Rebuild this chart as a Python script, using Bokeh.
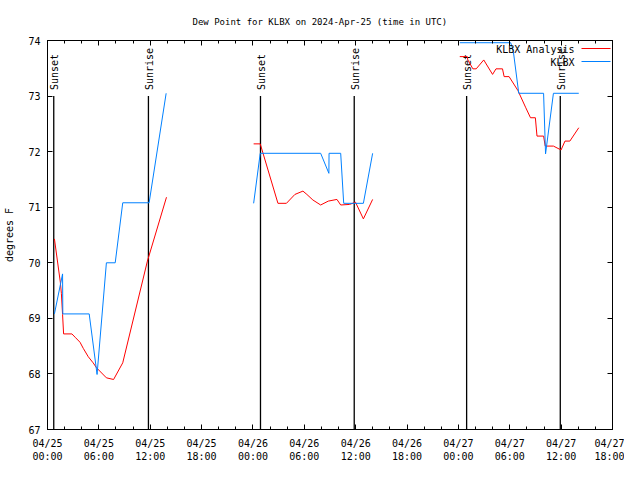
import math
from bokeh.plotting import figure
from bokeh.models import (LinearAxis, FixedTicker, Range1d, Label, PolyAnnotation,
                          ColumnDataSource)
from bokeh.embed import file_html
from bokeh.resources import INLINE
from bokeh.core.properties import value

NaN = float("nan")

# Time axis: hours since 2024-04-25 00:00 UTC
analysis_hours = [0.81, 1.50, 1.62, 1.76, 1.88, 2.85, 3.23, 3.80, 4.18, 4.76, 5.33, 5.73, 6.88, 7.72, 8.79, 11.67, 13.90,
                  NaN,
                  24.08, 24.85, 26.92, 27.91, 28.90, 29.84, 30.30, 31.00, 31.91, 32.80, 33.81, 34.25, 35.29, 35.98, 36.90, 37.98,
                  NaN,
                  48.16, 49.04, 49.10, 49.69, 50.08, 50.96, 51.99, 52.39, 53.15, 53.34, 53.92, 54.95, 55.84, 56.42, 56.99, 57.18,
                  57.95, 58.14, 59.10, 59.99, 60.45, 61.02, 62.06]
analysis_dewpt = [70.43, 69.65, 69.45, 69.07, 68.72, 68.72, 68.66, 68.57, 68.46, 68.31, 68.20, 68.11, 67.93, 67.90, 68.20, 70.03, 71.18,
                  NaN,
                  72.14, 72.14, 71.07, 71.07, 71.23, 71.29, 71.23, 71.13, 71.04, 71.11, 71.14, 71.04, 71.05, 71.09, 70.79, 71.14,
                  NaN,
                  73.71, 73.71, 73.65, 73.49, 73.49, 73.65, 73.39, 73.49, 73.49, 73.35, 73.35, 73.10, 72.80, 72.61, 72.61, 72.28,
                  72.28, 72.10, 72.10, 72.03, 72.19, 72.19, 72.43]

obs_hours = [0.81, 1.76, 1.79, 4.87, 5.79, 6.88, 7.91, 8.79, 11.87, 13.86,
             NaN,
             24.08, 24.85, 31.91, 32.87, 32.89, 34.25, 34.60, 36.90, 37.98,
             NaN,
             48.16, 54.11, 54.42, 55.05, 57.95, 58.18, 59.10, 62.06]
obs_dewpt = [69.08, 69.80, 69.08, 69.08, 67.99, 70.00, 70.00, 71.08, 71.08, 73.05,
             NaN,
             71.07, 71.97, 71.97, 71.61, 71.97, 71.97, 71.07, 71.07, 71.97,
             NaN,
             73.96, 73.96, 73.80, 73.05, 73.05, 71.96, 73.05, 73.05]

event_hours = [0.73, 11.79, 24.88, 35.83, 48.96, 59.90]
event_names = ["Sunset", "Sunrise", "Sunset", "Sunrise", "Sunset", "Sunrise"]
event_top = 73.0

x_tick_hours = [0, 6, 12, 18, 24, 30, 36, 42, 48, 54, 60, 66]
x_tick_labels = ["04/25\n00:00", "04/25\n06:00", "04/25\n12:00", "04/25\n18:00",
                 "04/26\n00:00", "04/26\n06:00", "04/26\n12:00", "04/26\n18:00",
                 "04/27\n00:00", "04/27\n06:00", "04/27\n12:00", "04/27\n18:00"]
x_minor_hours = list(range(0, 67, 2))
y_ticks = [67, 68, 69, 70, 71, 72, 73, 74]

series_names = ["KLBX Analysis", "KLBX"]
series_colors = ["#ff0000", "#0080ff"]

FONT = "DejaVu Sans Mono"
FS = "10px"

p = figure(width=624, height=464, output_backend="svg", toolbar_location=None,
           x_range=Range1d(0, 66), y_range=Range1d(67, 74),
           min_border_left=47, min_border_right=12, min_border_top=40, min_border_bottom=34,
           title="Dew Point for KLBX on 2024-Apr-25 (time in UTC)",
           x_axis_location=None, y_axis_location=None)
p.background_fill_color = "white"
p.border_fill_color = "white"
p.outline_line_color = "black"
p.outline_line_width = 1
p.xgrid.visible = False
p.ygrid.visible = False

p.title.text_font = FONT
p.title.text_font_size = "9px"
p.title.text_font_style = "normal"
p.title.text_color = "black"
p.title.align = "left"
p.title.offset = 145
p.title.standoff = 28

def style_axis(ax, labels=True):
    ax.axis_line_color = "black"
    ax.major_tick_line_color = "black"
    ax.minor_tick_line_color = "black"
    ax.major_tick_in = 5
    ax.major_tick_out = 0
    ax.minor_tick_in = 3
    ax.minor_tick_out = 0
    ax.major_label_text_font = FONT
    ax.major_label_text_font_size = FS if labels else "0px"
    ax.major_label_text_color = "black"
    ax.axis_label_text_font = FONT
    ax.axis_label_text_font_size = FS
    ax.axis_label_text_font_style = "normal"
    ax.axis_label_text_color = "black"

xticker = FixedTicker(ticks=x_tick_hours, minor_ticks=x_minor_hours)
yticker = FixedTicker(ticks=y_ticks, minor_ticks=[])

xb = LinearAxis(ticker=xticker)
style_axis(xb)
xb.major_label_overrides = {h: lab for h, lab in zip(x_tick_hours, x_tick_labels)}
xb.major_label_standoff = 8
xb.major_label_text_line_height = 1.2
p.add_layout(xb, "below")

xt = LinearAxis(ticker=xticker)
style_axis(xt, labels=False)
xt.major_label_standoff = 0
xt.major_label_overrides = {h: "" for h in x_tick_hours}
p.add_layout(xt, "above")

yl = LinearAxis(ticker=yticker, axis_label="degrees F")
style_axis(yl)
yl.major_label_standoff = 7
yl.axis_label_standoff = 10
p.add_layout(yl, "left")

yr = LinearAxis(ticker=yticker)
style_axis(yr, labels=False)
yr.major_label_standoff = 0
yr.major_label_overrides = {v: "" for v in y_ticks}
p.add_layout(yr, "right")

# Sunset / sunrise markers
ev = ColumnDataSource(dict(x=event_hours, y0=[67] * len(event_hours),
                           y1=[event_top] * len(event_hours), name=event_names))
p.segment(x0="x", y0="y0", x1="x", y1="y1", source=ev, line_color="black", line_width=1.3)
p.text(x="x", y="y1", text="name", source=ev, angle=math.pi / 2, text_align="left",
       text_baseline="middle", y_offset=-6, x_offset=1, text_font=value(FONT),
       text_font_size=FS, text_color="black")

# Data series
p.line(analysis_hours, analysis_dewpt, line_color=series_colors[0], line_width=1)
p.line(obs_hours, obs_dewpt, line_color=series_colors[1], line_width=1)

# Legend (gnuplot style: text right-aligned, sample line on the right)
for i, (name, col) in enumerate(zip(series_names, series_colors)):
    ly = 380 - 13 * i
    p.add_layout(Label(x=527, y=ly, x_units="screen", y_units="screen", text=name,
                       text_align="right", text_baseline="middle", text_font=FONT,
                       text_font_size=FS, text_color="black"))
    p.add_layout(PolyAnnotation(xs=[534, 563], ys=[ly + 1, ly + 1], xs_units="screen", ys_units="screen",
                                line_color=col, line_alpha=1.0, line_width=1, fill_alpha=0))

open("out.html", "w").write(file_html(p, INLINE))
